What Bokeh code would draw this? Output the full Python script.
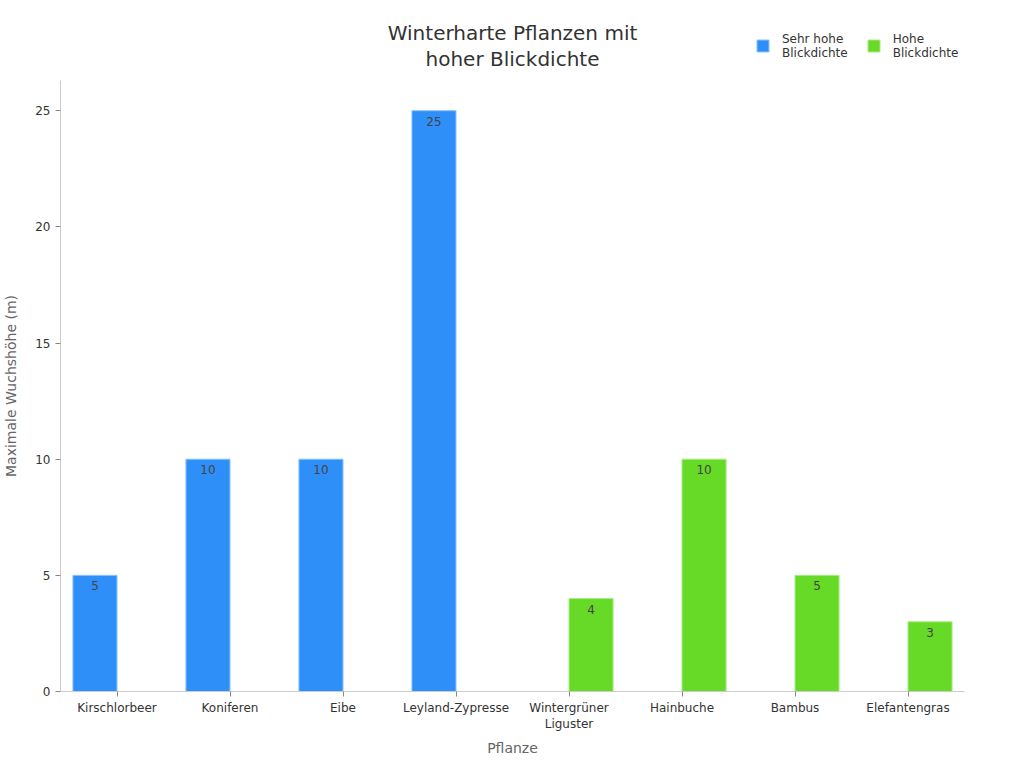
from bokeh.plotting import figure
from bokeh.layouts import column
from bokeh.models import ColumnDataSource, FactorRange, Range1d, LabelSet, Label, Legend, LegendItem
from bokeh.core.properties import value
from bokeh.transform import dodge
from bokeh.embed import file_html
from bokeh.resources import INLINE

pflanzen = ["Kirschlorbeer", "Koniferen", "Eibe", "Leyland-Zypresse",
            "Wintergrüner\nLiguster", "Hainbuche", "Bambus", "Elefantengras"]
sehr_hohe = [5, 10, 10, 25, 0, 0, 0, 0]
hohe = [0, 0, 0, 0, 4, 10, 5, 3]
y_ticks = [0, 5, 10, 15, 20, 25]
titel = ["Winterharte Pflanzen mit", "hoher Blickdichte"]
serien = ["Sehr hohe\nBlickdichte", "Hohe\nBlickdichte"]

blau = "#2f8ff8"
gruen = "#66da26"
schrift = "DejaVu Sans"


def quelle(werte):
    xs = [p for p, v in zip(pflanzen, werte) if v > 0]
    ys = [v for v in werte if v > 0]
    return ColumnDataSource(data=dict(x=xs, y=ys, txt=[str(v) for v in ys]))


src_a = quelle(sehr_hohe)
src_b = quelle(hohe)

# Kopfzeile mit Titel und Legende (Rahmen wird in der Spalte am Hauptdiagramm ausgerichtet)
kopf = figure(width=1000, height=80, x_range=Range1d(60, 964), y_range=Range1d(0, 80),
              output_backend="svg", toolbar_location=None,
              min_border_left=60, min_border_right=36, min_border_top=0, min_border_bottom=0)
kopf.axis.visible = False
kopf.grid.grid_line_color = None
kopf.outline_line_color = None

for i, zeile in enumerate(titel):
    kopf.add_layout(Label(x=512, y=80 - 32.5 - 26 * i, text=zeile, text_align="center",
                          text_baseline="middle", text_font=schrift, text_font_size="20px",
                          text_color="#333333"))

# unsichtbare Platzhalter, damit die Legende ihre Symbole zeichnet
la = kopf.vbar(x=[-500], top=[-500], width=1, fill_color=blau, line_color="#8cc3ff")
lb = kopf.vbar(x=[-500], top=[-500], width=1, fill_color=gruen, line_color="#a8ec84")
legend = Legend(items=[LegendItem(label=serien[0], renderers=[la]),
                       LegendItem(label=serien[1], renderers=[lb])],
                orientation="horizontal", location=(695, 20.5),
                label_text_font=schrift, label_text_font_size="12px", label_text_color="#333333",
                label_standoff=12, glyph_width=15, glyph_height=15, spacing=18,
                padding=0, margin=0, border_line_color=None, background_fill_alpha=0)
kopf.add_layout(legend, "center")

# Hauptdiagramm
p = figure(x_range=FactorRange(*pflanzen), y_range=Range1d(0, 26.3),
           width=1000, height=680, output_backend="svg", toolbar_location=None,
           min_border_left=60, min_border_right=36, min_border_top=0, min_border_bottom=69)

p.vbar(x=dodge("x", -0.195, range=p.x_range), top="y", width=0.39, source=src_a,
       fill_color=blau, line_color="#8cc3ff", line_width=1)
p.vbar(x=dodge("x", 0.195, range=p.x_range), top="y", width=0.39, source=src_b,
       fill_color=gruen, line_color="#a8ec84", line_width=1)

for src, off in ((src_a, -0.195), (src_b, 0.195)):
    p.add_layout(LabelSet(x=dodge("x", off, range=p.x_range), y="y", text="txt", source=src,
                          text_align="center", text_baseline="top", y_offset=-6,
                          text_font=value(schrift), text_font_size=value("12px"),
                          text_color="#444444"))

p.xgrid.grid_line_color = None
p.ygrid.grid_line_color = None
p.outline_line_color = None

p.xaxis.axis_label = "Pflanze"
p.yaxis.axis_label = "Maximale Wuchshöhe (m)"
p.yaxis.ticker = y_ticks
for ax in (p.xaxis, p.yaxis):
    ax.axis_line_color = "#cccccc"
    ax.major_tick_line_color = "#888888"
    ax.minor_tick_line_color = None
    ax.major_tick_in = 0
    ax.major_tick_out = 5
    ax.major_label_text_font = schrift
    ax.major_label_text_font_size = "12px"
    ax.major_label_text_color = "#333333"
    ax.axis_label_text_font = schrift
    ax.axis_label_text_font_size = "14px"
    ax.axis_label_text_font_style = "normal"
    ax.axis_label_text_color = "#666666"
p.xaxis.major_label_standoff = 4
p.xaxis.axis_label_standoff = 6
p.yaxis.axis_label_standoff = 13

layout = column(kopf, p, spacing=0)
open("out.html", "w").write(file_html(layout, INLINE))
